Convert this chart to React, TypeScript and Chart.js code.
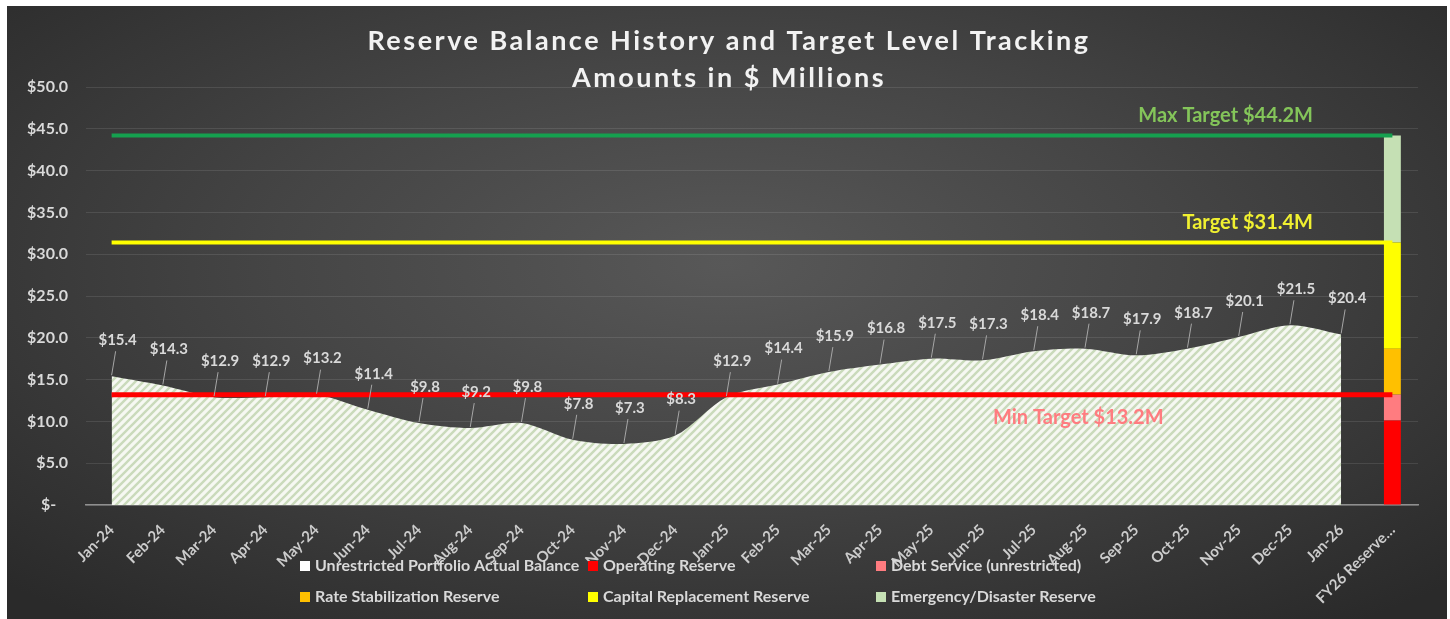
import React, { useEffect, useRef } from "react";
import { Chart, registerables } from "chart.js";
Chart.register(...registerables);

const categories = [
  "Jan-24", "Feb-24", "Mar-24", "Apr-24", "May-24", "Jun-24", "Jul-24", "Aug-24", "Sep-24",
  "Oct-24", "Nov-24", "Dec-24", "Jan-25", "Feb-25", "Mar-25", "Apr-25", "May-25", "Jun-25",
  "Jul-25", "Aug-25", "Sep-25", "Oct-25", "Nov-25", "Dec-25", "Jan-26", "FY26 Reserve\u2026",
];
const actualBalance = [
  15.4, 14.3, 12.9, 12.9, 13.2, 11.4, 9.8, 9.2, 9.8, 7.8, 7.3, 8.3, 12.9,
  14.4, 15.9, 16.8, 17.5, 17.3, 18.4, 18.7, 17.9, 18.7, 20.1, 21.5, 20.4,
];
const maxTarget = 44.2;
const target = 31.4;
const minTarget = 13.2;
const operatingReserve = 10.1;
const debtService = 3.1;
const rateStabilization = 5.5;
const capitalReplacement = 12.7;
const emergencyReserve = 12.8;
const yTickValues = [0, 5, 10, 15, 20, 25, 30, 35, 40, 45, 50];
const titleLines = ["Reserve Balance History and Target Level Tracking", "Amounts in $ Millions"];
const legendItems = [
  { label: "Unrestricted Portfolio Actual Balance", color: "#ffffff" },
  { label: "Operating Reserve", color: "#ff0000" },
  { label: "Debt Service (unrestricted)", color: "#ff7c80" },
  { label: "Rate Stabilization Reserve", color: "#ffc000" },
  { label: "Capital Replacement Reserve", color: "#ffff00" },
  { label: "Emergency/Disaster Reserve", color: "#c5e0b4" },
];

const FONT = "Lato, 'Open Sans', sans-serif";
const last = categories.length - 1;
const onlyLast = (v: number) => categories.map((_, i) => (i === last ? v : null));
const fmt = (v: number) => (v === 0 ? "$-   " : "$" + v.toFixed(1));

const overlay = {
  id: "overlay",
  afterDatasetsDraw(chart: any) {
    const ctx = chart.ctx as CanvasRenderingContext2D;
    const area = chart.chartArea;
    const ys = chart.scales.y;
    ctx.save();
    // data labels
    const meta = chart.getDatasetMeta(chart.data.datasets.length - 1);
    ctx.font = `bold 15px ${FONT}`;
    ctx.textAlign = "center";
    ctx.textBaseline = "middle";
    meta.data.forEach((pt: any, i: number) => {
      if (actualBalance[i] == null) return;
      const lx = pt.x + 6;
      const ly = pt.y - 36;
      ctx.strokeStyle = "#a6a6a6";
      ctx.lineWidth = 1;
      ctx.beginPath();
      ctx.moveTo(pt.x, pt.y - 1);
      ctx.lineTo(lx - 2, ly + 11);
      ctx.stroke();
      ctx.fillStyle = "#d9d9d9";
      ctx.fillText("$" + actualBalance[i].toFixed(1), lx, ly);
    });
    // target labels
    ctx.font = `bold 20px ${FONT}`;
    ctx.textAlign = "right";
    ctx.fillStyle = "#84c55a";
    ctx.fillText(`Max Target $${maxTarget}M`, area.right - 105, ys.getPixelForValue(maxTarget) - 20);
    ctx.fillStyle = "#f0f030";
    ctx.fillText(`Target $${target}M`, area.right - 105, ys.getPixelForValue(target) - 20);
    ctx.textAlign = "left";
    ctx.fillStyle = "#ff7c80";
    ctx.fillText(`Min Target $${minTarget}M`, area.left + 907, ys.getPixelForValue(minTarget) + 23);
    ctx.restore();
  },
  afterDraw(chart: any) {
    const ctx = chart.ctx as CanvasRenderingContext2D;
    const w = chart.width;
    ctx.save();
    ctx.fillStyle = "#f2f2f2";
    ctx.textAlign = "center";
    ctx.textBaseline = "alphabetic";
    ctx.font = `bold 27px ${FONT}`;
    (ctx as any).letterSpacing = "2.5px";
    ctx.fillText(titleLines[0], w / 2 + 2, 44);
    ctx.fillText(titleLines[1], w / 2 + 2, 81);
    (ctx as any).letterSpacing = "0px";
    // legend
    ctx.font = `bold 16px ${FONT}`;
    ctx.textAlign = "left";
    ctx.textBaseline = "middle";
    legendItems.forEach((it, i) => {
      const col = i % 3;
      const row = Math.floor(i / 3);
      const x = 293 + col * 288;
      const y = 560 + row * 31;
      ctx.fillStyle = it.color;
      ctx.fillRect(x, y - 5, 10, 10);
      ctx.fillStyle = "#d9d9d9";
      ctx.fillText(it.label, x + 15, y);
    });
    ctx.restore();
  },
};

export default function App() {
  const ref = useRef<HTMLCanvasElement | null>(null);
  useEffect(() => {
    const canvas = ref.current!;
    const ctx = canvas.getContext("2d")!;
    const pc = document.createElement("canvas");
    pc.width = 8;
    pc.height = 8;
    const p = pc.getContext("2d")!;
    p.fillStyle = "#f6f8f2";
    p.fillRect(0, 0, 8, 8);
    p.strokeStyle = "#cadabb";
    p.lineWidth = 2.4;
    p.beginPath();
    p.moveTo(-1, 9); p.lineTo(9, -1);
    p.moveTo(-3, 3); p.lineTo(3, -3);
    p.moveTo(5, 11); p.lineTo(11, 5);
    p.stroke();
    const pattern = ctx.createPattern(pc, "repeat")!;

    const hline = (v: number, color: string, width: number, stack: string) => ({
      type: "line" as const,
      data: [{ x: categories[0], y: v }, { x: categories[last], y: v }],
      borderColor: color,
      borderWidth: width,
      pointRadius: 0,
      fill: false,
      stack,
      order: 0,
    });
    const bar = (v: number, color: string) => ({
      type: "bar" as const,
      data: onlyLast(v),
      backgroundColor: color,
      borderWidth: 0,
      stack: "reserve",
      categoryPercentage: 1,
      barPercentage: 0.33,
      order: 1,
    });

    const chart = new Chart(ctx, {
      type: "bar",
      data: {
        labels: categories,
        datasets: [
          hline(maxTarget, "#15a04f", 4, "max"),
          hline(target, "#ffff00", 4, "tgt"),
          hline(minTarget, "#ff0000", 5, "min"),
          bar(operatingReserve, "#ff0000"),
          bar(debtService, "#ff7c80"),
          bar(rateStabilization, "#ffc000"),
          bar(capitalReplacement, "#ffff00"),
          bar(emergencyReserve, "#c5e0b4"),
          {
            type: "line" as const,
            data: actualBalance,
            backgroundColor: pattern,
            borderWidth: 0,
            borderColor: "rgba(0,0,0,0)",
            pointRadius: 0,
            fill: "origin",
            tension: 0.3,
            stack: "area",
            order: 2,
          },
        ] as any,
      },
      options: {
        animation: false,
        responsive: true,
        maintainAspectRatio: false,
        layout: { padding: { top: 81, left: 0, right: 29, bottom: 0 } },
        plugins: {
          legend: { display: false },
          title: { display: false },
          tooltip: { enabled: false },
        },
        scales: {
          x: {
            grid: { display: false, drawTicks: false },
            border: { color: "#8f8f8f", width: 1.5 },
            ticks: {
              color: "#cccccc",
              font: { family: FONT, size: 15, weight: "bold" },
              minRotation: 45,
              maxRotation: 45,
              autoSkip: false,
              padding: 16,
            },
            afterFit: (s: any) => { s.height = 114; },
          },
          y: {
            stacked: true,
            min: 0,
            max: 50,
            afterBuildTicks: (s: any) => { s.ticks = yTickValues.map((v) => ({ value: v })); },
            ticks: {
              color: "#d9d9d9",
              font: { family: FONT, size: 16, weight: "bold" },
              padding: 18,
              callback: (v: any) => fmt(Number(v)),
            },
            grid: { color: "rgba(255,255,255,0.1)", drawTicks: false },
            border: { display: false },
            afterFit: (s: any) => { s.width = 79; },
          },
        },
      } as any,
      plugins: [overlay],
    });
    return () => chart.destroy();
  }, []);

  return (
    <div
      style={{
        position: "absolute",
        left: 7,
        top: 6,
        width: 1440,
        height: 613,
        background: "radial-gradient(ellipse 70% 75% at 50% 42%, #585858 0%, #454545 45%, #2a2a2a 100%)",
      }}
    >
      <canvas ref={ref} />
    </div>
  );
}
